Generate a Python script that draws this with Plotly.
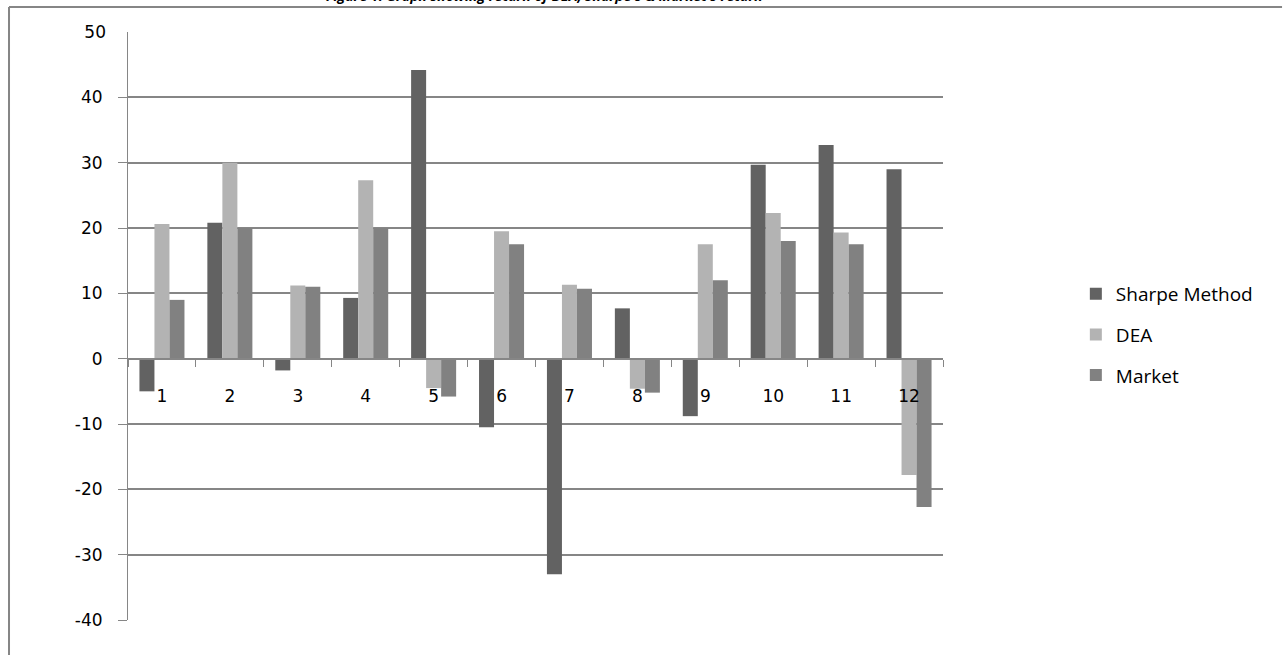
import plotly.graph_objects as go

# Return (%) per portfolio for each method
portfolios = list(range(1, 13))
sharpe = [-5.0, 20.8, -1.8, 9.3, 44.2, -10.5, -33.0, 7.7, -8.8, 29.7, 32.7, 29.0]
dea = [20.6, 30.0, 11.2, 27.3, -4.5, 19.5, 11.3, -4.6, 17.5, 22.3, 19.3, -17.8]
market = [9.0, 20.0, 11.0, 20.0, -5.8, 17.5, 10.7, -5.2, 12.0, 18.0, 17.5, -22.7]

y_ticks = [-40, -30, -20, -10, 0, 10, 20, 30, 40]
y_tick_labels = ["-40", "-30", "-20", "-10", "0", "10", "20", "30", "40"]
y_top = 50
title_text = "Figure 1: Graph showing return of DEA, Sharpe's & Market's return"

AXIS_GREY = "#868686"
TICK_FONT = dict(family="DejaVu Sans", size=17, color="#000000")

fig = go.Figure()
series = [
    ("Sharpe Method", sharpe, "#626262"),
    ("DEA", dea, "#b3b3b3"),
    ("Market", market, "#818181"),
]
for name, vals, color in series:
    fig.add_trace(go.Bar(
        x=portfolios, y=vals, name=name, legendgroup=name,
        marker=dict(color=color, line=dict(width=0)),
    ))

# category boundaries for the small ticks on the zero line
boundaries = [p - 0.5 for p in portfolios] + [portfolios[-1] + 0.5]

fig.update_layout(
    width=1284, height=655,
    margin=dict(l=128, r=341, t=32, b=35),
    paper_bgcolor="white", plot_bgcolor="white",
    barmode="group", bargap=0.337, bargroupgap=0,
    showlegend=True,
    legend=dict(
        x=1.163, xanchor="left", y=0.587, yanchor="top",
        font=dict(family="Open Sans", size=19, color="#000000"),
        tracegroupgap=13, itemwidth=30,
        bgcolor="rgba(0,0,0,0)",
    ),
    xaxis=dict(
        range=[0.5, 12.5], anchor="free", position=40 / 90,
        tickmode="array", tickvals=portfolios,
        ticktext=[str(p) for p in portfolios],
        ticks="", ticklabelstandoff=22, tickfont=TICK_FONT,
        showline=True, linecolor=AXIS_GREY, linewidth=2,
        showgrid=False, zeroline=False,
        minor=dict(tickmode="array", tickvals=boundaries, ticks="outside",
                   ticklen=7, tickwidth=1, tickcolor=AXIS_GREY, showgrid=False),
    ),
    yaxis=dict(
        range=[-40, y_top], tickmode="array", tickvals=y_ticks,
        ticktext=y_tick_labels,
        ticks="outside", ticklen=9, tickwidth=1, tickcolor=AXIS_GREY,
        ticklabelstandoff=12, tickfont=TICK_FONT,
        showgrid=True, gridcolor=AXIS_GREY, gridwidth=1.5,
        showline=True, linecolor=AXIS_GREY, linewidth=1,
        zeroline=False,
    ),
    yaxis2=dict(
        range=[-40, y_top], overlaying="y", side="left", anchor="x",
        tickmode="array", tickvals=[y_top], ticktext=[str(y_top)],
        ticks="", ticklabelstandoff=21, tickfont=TICK_FONT,
        showgrid=False, showline=False, zeroline=False,
    ),
)

# overlay axis carrying only the top label
fig.add_trace(go.Scatter(x=[None], y=[None], yaxis="y2", showlegend=False,
                         hoverinfo="skip"))

# figure caption, partly running off the top edge
fig.add_annotation(
    xref="paper", yref="paper", x=0.511, y=1, yshift=37,
    xanchor="center", yanchor="middle", showarrow=False,
    text="<b><i>" + title_text + "</i></b>",
    font=dict(family="Open Sans", size=14, color="#000000"),
)

# outer frame: top and left edges
frame = dict(color=AXIS_GREY, width=2)
fig.add_shape(type="line", xref="paper", yref="paper",
              x0=-0.146, x1=1.416, y0=1.0425, y1=1.0425, line=frame)
fig.add_shape(type="line", xref="paper", yref="paper",
              x0=-0.146, x1=-0.146, y0=1.0425, y1=-0.07, line=frame)

fig.write_html("out.html")
